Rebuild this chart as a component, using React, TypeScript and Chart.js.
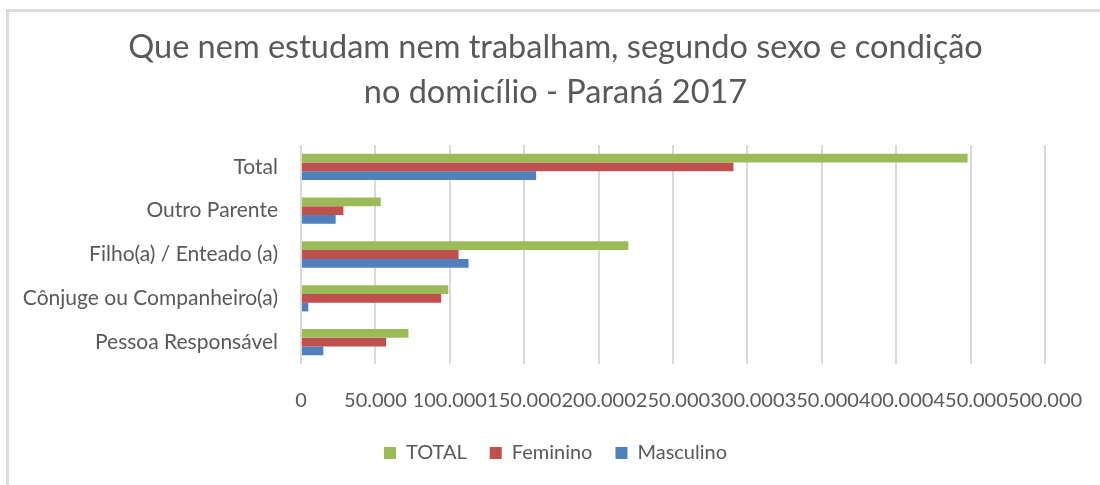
import React, { useEffect, useRef } from "react";
import { Chart, registerables } from "chart.js";

Chart.register(...registerables);

const titleLines = [
  "Que nem estudam nem trabalham, segundo sexo e condição",
  "no domicílio - Paraná 2017",
];
const categories = [
  "Total",
  "Outro Parente",
  "Filho(a) / Enteado (a)",
  "Cônjuge ou Companheiro(a)",
  "Pessoa Responsável",
];
const seriesNames = ["TOTAL", "Feminino", "Masculino"];
const totalValues = [448000, 53600, 220000, 99000, 72200];
const femininoValues = [290600, 28500, 105900, 94200, 57200];
const masculinoValues = [158000, 23300, 112600, 4900, 15000];
const seriesColors = ["#9BBB59", "#C0504D", "#4F81BD"];
const axisMax = 500000;
const axisStep = 50000;

const FONT = "Lato, 'Open Sans', sans-serif";
const TEXT = "#595959";

function fmt(v: number): string {
  return String(Math.round(v)).replace(/\B(?=(\d{3})+(?!\d))/g, ".");
}

export default function App() {
  const ref = useRef<HTMLCanvasElement | null>(null);

  useEffect(() => {
    if (!ref.current) return;
    const values = [totalValues, femininoValues, masculinoValues];
    const chart = new Chart(ref.current, {
      type: "bar",
      data: {
        labels: categories,
        datasets: seriesNames.map((name, i) => ({
          label: name,
          data: values[i],
          backgroundColor: seriesColors[i],
          borderWidth: 0,
          categoryPercentage: 0.6,
          barPercentage: 1.0,
        })),
      },
      options: {
        indexAxis: "y",
        animation: false,
        responsive: false,
        devicePixelRatio: 1,
        layout: { padding: { left: 11, right: 0, top: 10, bottom: 12 } },
        plugins: {
          title: {
            display: true,
            text: titleLines,
            color: TEXT,
            font: { family: FONT, size: 32.5, weight: "normal", lineHeight: 45 / 32.5 },
            padding: { top: 15, bottom: 30 },
          },
          legend: {
            position: "bottom",
            labels: {
              color: TEXT,
              font: { family: FONT, size: 20 },
              boxWidth: 12,
              boxHeight: 12,
              padding: 23,
            },
          },
          tooltip: { enabled: false },
        },
        scales: {
          x: {
            min: 0,
            max: axisMax,
            ticks: {
              stepSize: axisStep,
              autoSkip: false,
              maxRotation: 0,
              color: TEXT,
              font: { family: FONT, size: 20 },
              padding: 25,
              callback: (v: any) => fmt(Number(v)),
            },
            grid: { color: "#d9d9d9", lineWidth: 2, drawTicks: false },
            border: { display: false },
            afterFit: (s: any) => {
              s.height = 56;
              s.paddingLeft = 0;
              s.paddingRight = 0;
            },
          },
          y: {
            ticks: {
              color: TEXT,
              font: { family: FONT, size: 21 },
              padding: 23,
              autoSkip: false,
            },
            grid: { display: false, drawTicks: false },
            border: { display: false },
            afterFit: (s: any) => {
              s.width = 290;
            },
          },
          yRight: {
            type: "category",
            position: "right",
            display: true,
            ticks: { display: false },
            grid: { display: false, drawTicks: false },
            border: { display: false },
            afterFit: (s: any) => {
              s.width = 55;
            },
          },
        },
      },
    });
    return () => chart.destroy();
  }, []);

  return (
    <div
      style={{
        position: "fixed",
        left: 0,
        top: 0,
        width: 1100,
        height: 485,
        background: "#ffffff",
        overflow: "hidden",
      }}
    >
      <canvas
        ref={ref}
        width={1100}
        height={485}
        style={{ position: "absolute", left: 0, top: 0, width: 1100, height: 485 }}
      />
      <div
        style={{
          position: "absolute",
          left: 6,
          top: 9,
          right: 0,
          bottom: 0,
          borderLeft: "3px solid #dcdcdc",
          borderTop: "3px solid #dcdcdc",
          pointerEvents: "none",
        }}
      />
    </div>
  );
}
